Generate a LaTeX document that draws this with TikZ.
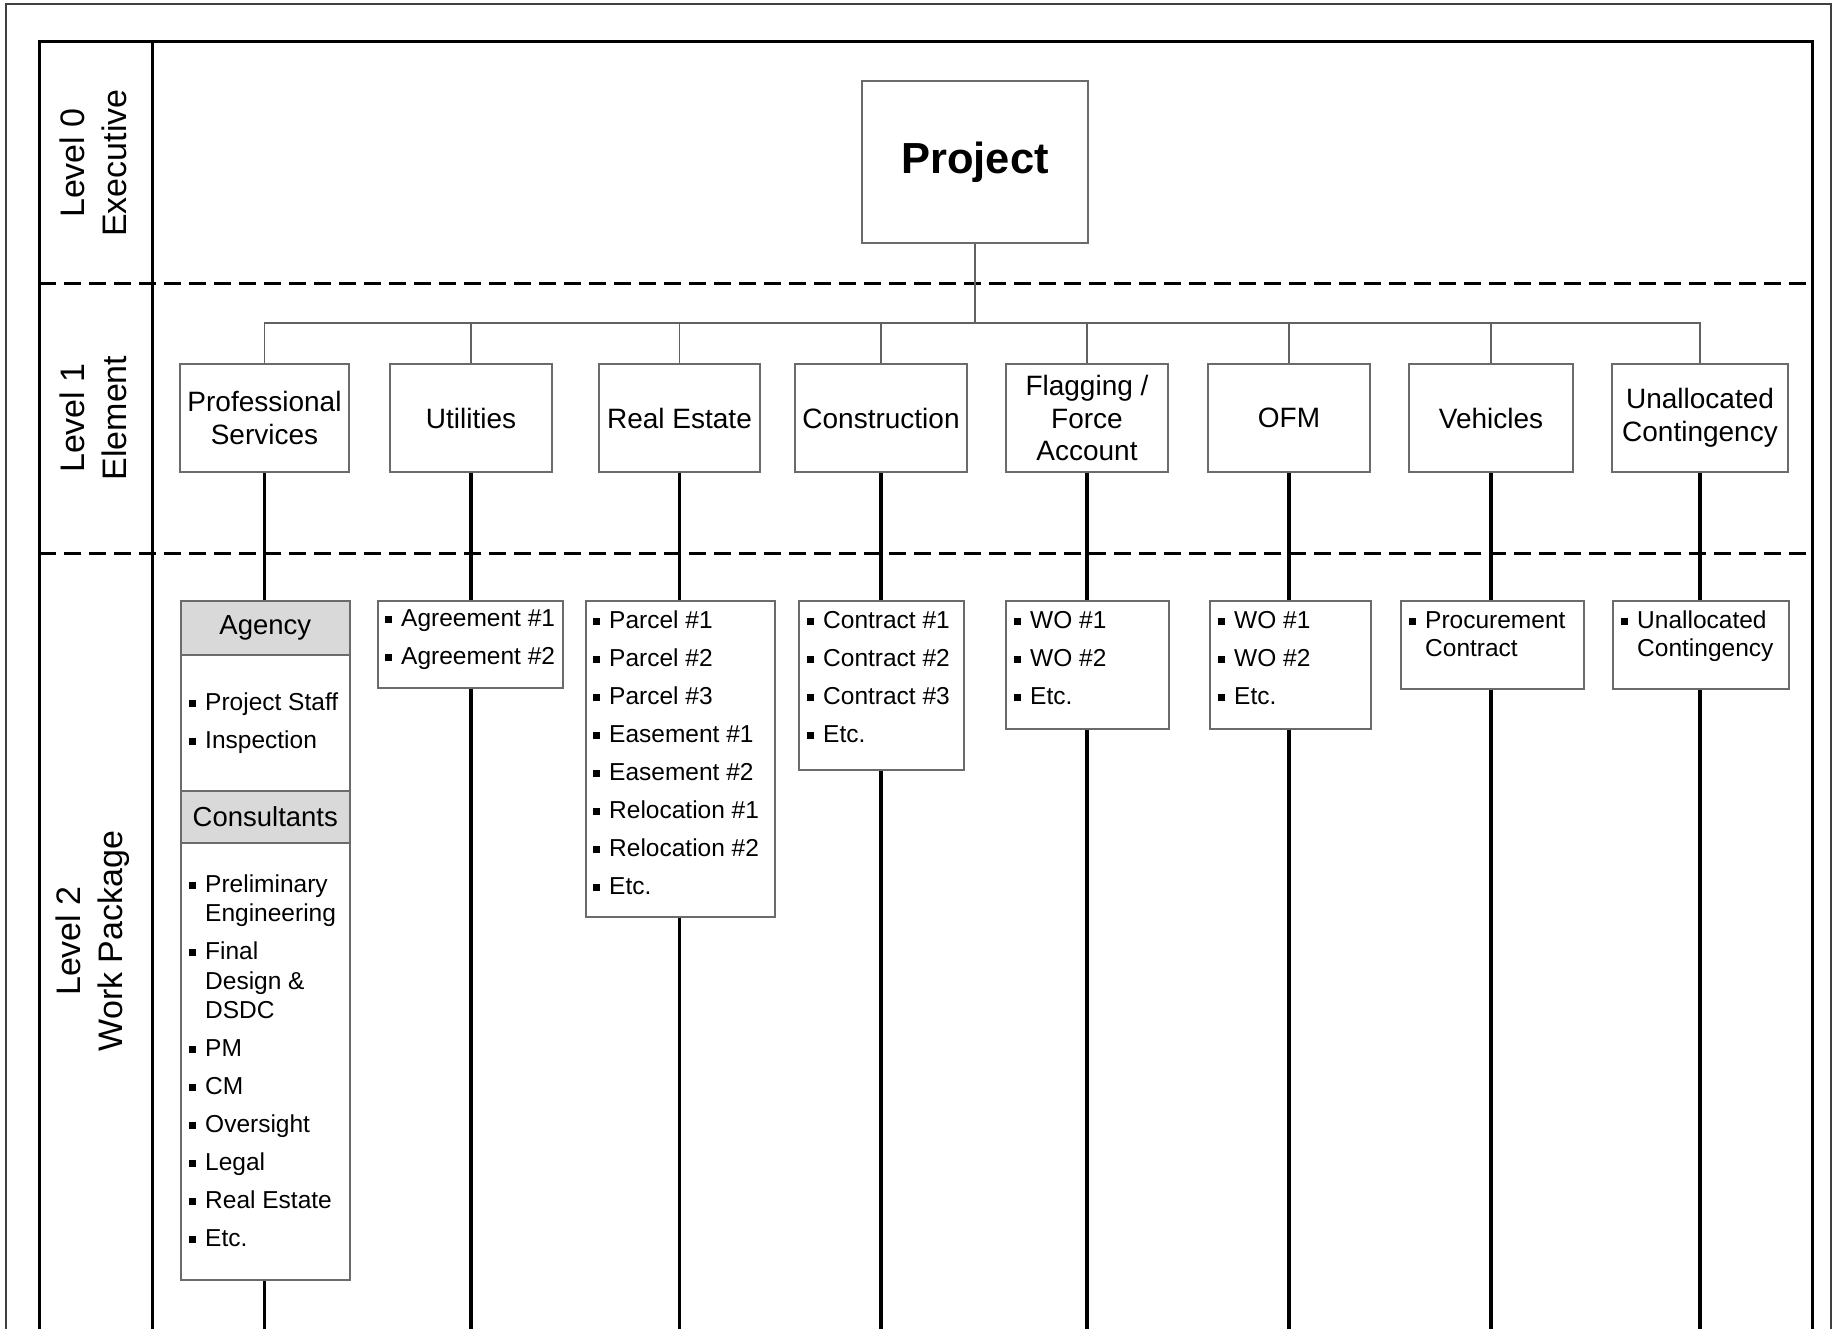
\documentclass[tikz,border=0pt]{standalone}
\usepackage{fontspec}
\setmainfont{Liberation Sans}
\usetikzlibrary{calc}

% square bullet and continuation indent for the work-package lists
\newcommand{\bul}{\makebox[16pt][l]{\rule[3.5pt]{7pt}{7pt}}}
\newcommand{\ind}{\hspace*{16pt}}
\newcommand{\gap}{\\[8.5pt]}
\newcommand{\itemlist}[1]{\parbox[t]{220pt}{\raggedright #1}}

\begin{document}
\begin{tikzpicture}[x=1pt,y=-1pt,
  framelines/.style={line width=3pt, black, line join=miter},
  outerframe/.style={line width=1.2pt, black!75},
  sepline/.style={line width=3pt, black, dash pattern=on 17pt off 8pt},
  thinlink/.style={line width=1.6pt, black!62},
  thicklink/.style={line width=3.2pt, black},
  topbox/.style={draw=black!58, line width=1.6pt, fill=white, inner sep=0pt,
    align=center, font=\fontsize{43.5}{50}\selectfont\bfseries},
  elembox/.style={draw=black!58, line width=1.6pt, fill=white, inner sep=0pt,
    align=center, minimum height=108, font=\fontsize{28}{32.5}\selectfont},
  pkgbox/.style={draw=black!58, line width=1.6pt, fill=white, inner sep=0pt,
    anchor=north west},
  hdrbox/.style={draw=black!58, line width=1.6pt, fill=black!15, inner sep=0pt,
    anchor=north west, font=\fontsize{27.5}{32}\selectfont},
  pkglist/.style={inner sep=0pt, anchor=base west,
    font=\fontsize{24.5}{29.5}\selectfont},
  lvl/.style={rotate=90, align=center, inner sep=0pt,
    font=\fontsize{34}{42}\selectfont},
]
\useasboundingbox (0,0) rectangle (1837,1329);

% outer page frame and the level grid
\draw[outerframe] (6,1329) |- (1831,4) -- (1831,1329);
\draw[framelines] (39,1329) |- (1812,42) -- (1812,1329);
\draw[framelines] (152,42) -- (152,1329);
\draw[sepline] (39,284) -- (1812,284);
\draw[sepline] (39,553) -- (1812,553);

% level captions
\node[lvl] (lv0) at (93,163) {Level 0\\Executive};
\node[lvl] (lv1) at (93,418) {Level 1\\Element};
\node[lvl] (lv2) at (93,941) {Level 2\\Work Package};

% level 0
\node[topbox, minimum width=226, minimum height=162] (pr) at (975,162) {Project};

% level 1 elements
\node[elembox, minimum width=169] (ps) at (264.5,418) {Professional\\Services};
\node[elembox, minimum width=162] (ut) at (471,418) {Utilities};
\node[elembox, minimum width=161] (re) at (679.5,418) {Real Estate};
\node[elembox, minimum width=172] (co) at (881,418) {Construction};
\node[elembox, minimum width=162] (fl) at (1087,418) {Flagging /\\Force\\Account};
\node[elembox, minimum width=162] (of) at (1289,418) {OFM};
\node[elembox, minimum width=164] (ve) at (1491,418) {Vehicles};
\node[elembox, minimum width=176] (un) at (1700,418) {Unallocated\\Contingency};

% level 1 bus
\coordinate (bus) at (975,323);
\coordinate (bot) at (975,1329);
\draw[thinlink] (pr.south) -- (bus);
\draw[thinlink] (ps.north) |- (bus) -| (un.north);
\foreach \n in {ut,re,co,fl,of,ve}
  \draw[thinlink] (\n.north) -- (\n.north |- bus);

% level 2 work packages
\node[hdrbox, minimum width=169, minimum height=54] (agh) at (180,600) {Agency};
\node[pkgbox, minimum width=169, minimum height=136] (agl) at (180,654) {};
\node[hdrbox, minimum width=169, minimum height=52] (coh) at (180,790) {Consultants};
\node[pkgbox, minimum width=169, minimum height=437] (col) at (180,842) {};
\node[pkgbox, minimum width=185, minimum height=87] (ut2) at (377,600) {};
\node[pkgbox, minimum width=189, minimum height=316] (re2) at (585,600) {};
\node[pkgbox, minimum width=165, minimum height=169] (co2) at (798,600) {};
\node[pkgbox, minimum width=163, minimum height=128] (fl2) at (1005,600) {};
\node[pkgbox, minimum width=161, minimum height=128] (of2) at (1209,600) {};
\node[pkgbox, minimum width=183, minimum height=88] (ve2) at (1400,600) {};
\node[pkgbox, minimum width=176, minimum height=88] (un2) at (1612,600) {};

\node[pkglist] (agt) at ($(agl.north west)+(9,56)$)
  {\itemlist{\bul Project Staff\gap\bul Inspection}};
\node[pkglist] (cot) at ($(col.north west)+(9,50)$)
  {\itemlist{\bul Preliminary\\\ind Engineering\gap
    \bul Final\\\ind Design \&\\\ind DSDC\gap
    \bul PM\gap\bul CM\gap\bul Oversight\gap\bul Legal\gap
    \bul Real Estate\gap\bul Etc.}};
\node[pkglist] (utt) at ($(ut2.north west)+(8,26)$)
  {\itemlist{\bul Agreement \#1\gap\bul Agreement \#2}};
\node[pkglist] (ret) at ($(re2.north west)+(8,28)$)
  {\itemlist{\bul Parcel \#1\gap\bul Parcel \#2\gap\bul Parcel \#3\gap
    \bul Easement \#1\gap\bul Easement \#2\gap
    \bul Relocation \#1\gap\bul Relocation \#2\gap\bul Etc.}};
\node[pkglist] (cot2) at ($(co2.north west)+(9,28)$)
  {\itemlist{\bul Contract \#1\gap\bul Contract \#2\gap\bul Contract \#3\gap\bul Etc.}};
\node[pkglist] (flt) at ($(fl2.north west)+(9,28)$)
  {\itemlist{\bul WO \#1\gap\bul WO \#2\gap\bul Etc.}};
\node[pkglist] (oft) at ($(of2.north west)+(9,28)$)
  {\itemlist{\bul WO \#1\gap\bul WO \#2\gap\bul Etc.}};
\node[pkglist] (vet) at ($(ve2.north west)+(9,28)$)
  {\itemlist{\bul Procurement\\[-1.5pt]\ind Contract}};
\node[pkglist] (unt) at ($(un2.north west)+(9,28)$)
  {\itemlist{\bul Unallocated\\[-1.5pt]\ind Contingency}};

% element-to-package links, running on to the page foot
\draw[thicklink] (ps.south) -- (ps.south |- agh.north);
\draw[thicklink] (col.south -| ps.south) -- (ps.south |- bot);
\foreach \a/\b in {ut/ut2,re/re2,co/co2,fl/fl2,of/of2,ve/ve2,un/un2}{
  \draw[thicklink] (\a.south) -- (\a.south |- \b.north);
  \draw[thicklink] (\b.south -| \a.south) -- (\a.south |- bot);
}
\end{tikzpicture}
\end{document}
